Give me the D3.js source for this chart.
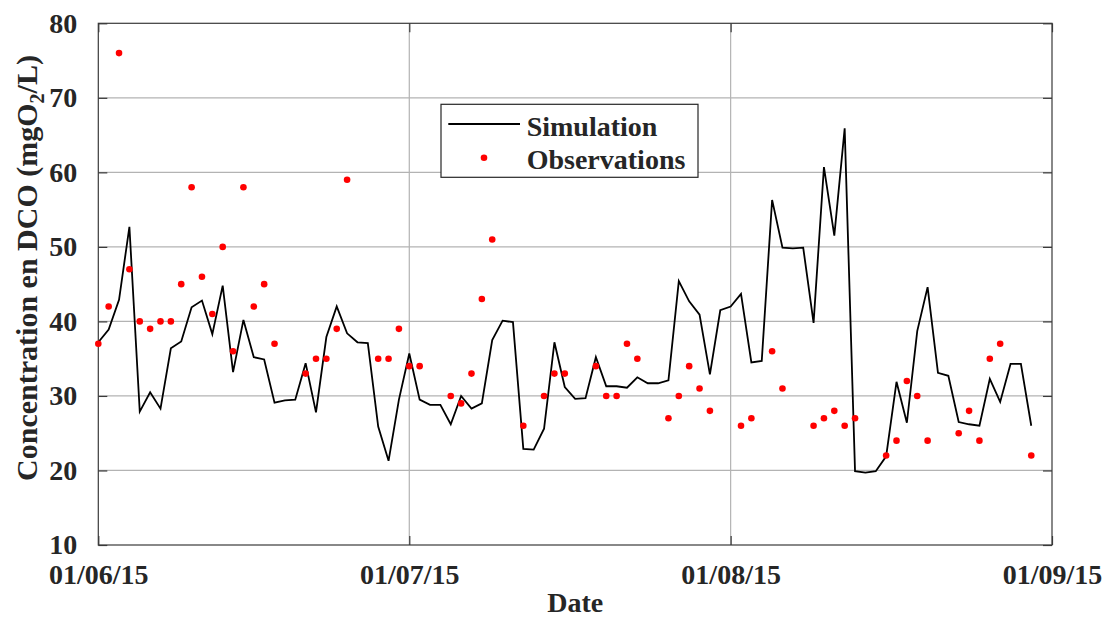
<!DOCTYPE html>
<html>
<head>
<meta charset="utf-8">
<script src="https://cdn.jsdelivr.net/npm/d3@7"></script>
<style>
  html, body { margin: 0; padding: 0; background: #fff; }
  svg { display: block; }
  text { font-family: "Liberation Serif", "Times New Roman", serif; font-weight: bold; fill: #262626; }
</style>
</head>
<body>
<svg id="chart" width="1105" height="619"></svg>
<script>
// ---------- data ----------
const simStart = "2015-06-01";
const simEnd = "2015-08-31"; // exclusive: daily values from 01/06 to 30/08
const simValues = [
  37.2, 38.9, 42.9, 52.7, 27.9, 30.5, 28.3, 36.4, 37.3, 41.9,
  42.8, 38.3, 44.8, 33.2, 40.2, 35.2, 34.9, 29.1, 29.4, 29.5,
  34.4, 27.8, 37.9, 42.0, 38.4, 37.2, 37.1, 25.9, 21.3, 29.5,
  35.7, 29.5, 28.8, 28.8, 26.2, 30.0, 28.3, 29.0, 37.5, 40.1,
  39.9, 22.9, 22.8, 25.6, 37.2, 31.2, 29.6, 29.7, 35.2, 31.3,
  31.3, 31.1, 32.5, 31.7, 31.7, 32.1, 45.4, 42.7, 40.9, 32.9,
  41.5, 42.0, 43.7, 34.5, 34.7, 56.3, 49.9, 49.8, 49.9, 39.8,
  60.7, 51.5, 65.9, 19.9, 19.7, 19.9, 21.9, 31.9, 26.4, 38.7,
  44.6, 33.1, 32.7, 26.5, 26.2, 26.0, 32.3, 29.2, 34.3, 34.3, 26.0
];
const obsDates = [
  "2015-06-01","2015-06-02","2015-06-03","2015-06-04","2015-06-05","2015-06-06","2015-06-07","2015-06-08",
  "2015-06-09","2015-06-10","2015-06-11","2015-06-12","2015-06-13","2015-06-14","2015-06-15","2015-06-16",
  "2015-06-17","2015-06-18","2015-06-21","2015-06-22","2015-06-23","2015-06-24","2015-06-25","2015-06-28",
  "2015-06-29","2015-06-30","2015-07-01","2015-07-02","2015-07-05","2015-07-06","2015-07-07","2015-07-08",
  "2015-07-09","2015-07-12","2015-07-14","2015-07-15","2015-07-16","2015-07-19","2015-07-20","2015-07-21",
  "2015-07-22","2015-07-23","2015-07-26","2015-07-27","2015-07-28","2015-07-29","2015-07-30","2015-08-02",
  "2015-08-03","2015-08-05","2015-08-06","2015-08-09","2015-08-10","2015-08-11","2015-08-12","2015-08-13",
  "2015-08-16","2015-08-17","2015-08-18","2015-08-19","2015-08-20","2015-08-23","2015-08-24","2015-08-25",
  "2015-08-26","2015-08-27","2015-08-30"
];
const obsValues = [
  37, 42, 76, 47, 40, 39, 40, 40,
  45, 58, 46, 41, 50, 36, 58, 42,
  45, 37, 33, 35, 35, 39, 59, 35,
  35, 39, 34, 34, 30, 29, 33, 43,
  51, 26, 30, 33, 33, 34, 30, 30,
  37, 35, 27, 30, 34, 31, 28, 26,
  27, 36, 31, 26, 27, 28, 26, 27,
  22, 24, 32, 30, 24, 25, 28, 24,
  35, 37, 22
];
const xDomain = ["2015-06-01", "2015-09-01"];
const xTickLabels = ["2015-06-01", "2015-07-01", "2015-08-01", "2015-09-01"];
const yDomain = [10, 80];
const yTickValues = [10, 20, 30, 40, 50, 60, 70, 80];
const seriesNames = ["Simulation", "Observations"];

// ---------- layout ----------
const parse = d3.utcParse("%Y-%m-%d");
const fmt = d3.utcFormat("%d/%m/%y");
const svg = d3.select("#chart");
const L = 98.3, R = 1052, T = 23.3, B = 545;

const x = d3.scaleUtc().domain(xDomain.map(parse)).range([L, R]);
const y = d3.scaleLinear().domain(yDomain).range([B, T]);

const simDates = d3.utcDays(parse(simStart), parse(simEnd));
const sim = simValues.map((v, i) => ({ date: simDates[i], value: v }));
const obs = obsValues.map((v, i) => ({ date: parse(obsDates[i]), value: v }));

const gridColor = "#b3b3b3";
const axisColor = "#3a3a3a";

// grid
const grid = svg.append("g");
grid.selectAll("line.gy").data(yTickValues.slice(1, -1)).enter().append("line")
  .attr("x1", L).attr("x2", R).attr("y1", d => y(d)).attr("y2", d => y(d))
  .attr("stroke", gridColor).attr("stroke-width", 1.2);
grid.selectAll("line.gx").data(xTickLabels.slice(1, -1).map(parse)).enter().append("line")
  .attr("y1", T).attr("y2", B).attr("x1", d => x(d)).attr("x2", d => x(d))
  .attr("stroke", gridColor).attr("stroke-width", 1.2);

// axes (inward ticks)
const tickLen = 9;
const yAxisL = d3.axisLeft(y).tickValues(yTickValues).tickSize(-tickLen).tickPadding(tickLen + 12);
const yAxisR = d3.axisRight(y).tickValues(yTickValues).tickSize(-tickLen).tickFormat("");
const xAxisB = d3.axisBottom(x).tickValues(xTickLabels.map(parse)).tickSize(-tickLen).tickPadding(tickLen + 12).tickFormat(fmt);
const xAxisT = d3.axisTop(x).tickValues(xTickLabels.map(parse)).tickSize(-tickLen).tickFormat("");

function styleAxis(g) {
  g.select(".domain").remove();
  g.selectAll(".tick line").attr("stroke", axisColor).attr("stroke-width", 1.2);
  g.selectAll(".tick text").attr("fill", "#262626")
    .style("font-family", "'Liberation Serif', 'Times New Roman', serif")
    .style("font-weight", "bold").style("font-size", "28px");
}
svg.append("g").attr("transform", `translate(${L},0)`).call(yAxisL).call(styleAxis);
svg.append("g").attr("transform", `translate(${R},0)`).call(yAxisR).call(styleAxis);
svg.append("g").attr("transform", `translate(0,${B})`).call(xAxisB).call(styleAxis)
  .selectAll(".tick text").attr("dy", null).attr("y", 38.5);
svg.append("g").attr("transform", `translate(0,${T})`).call(xAxisT).call(styleAxis);

// box
svg.append("rect").attr("x", L).attr("y", T).attr("width", R - L).attr("height", B - T)
  .attr("fill", "none").attr("stroke", axisColor).attr("stroke-width", 1.2);

// simulation line
const line = d3.line().x(d => x(d.date)).y(d => y(d.value));
svg.append("path").datum(sim).attr("d", line)
  .attr("fill", "none").attr("stroke", "#000").attr("stroke-width", 1.8)
  .attr("stroke-linejoin", "miter");

// observations
svg.append("g").selectAll("circle").data(obs).enter().append("circle")
  .attr("cx", d => x(d.date)).attr("cy", d => y(d.value)).attr("r", 3.3)
  .attr("fill", "#ff0000");

// legend
const lg = svg.append("g");
lg.append("rect").attr("x", 441).attr("y", 104.3).attr("width", 257).attr("height", 73)
  .attr("fill", "#fff").attr("stroke", "#262626").attr("stroke-width", 1.2);
lg.append("line").attr("x1", 448.3).attr("x2", 520).attr("y1", 124).attr("y2", 124)
  .attr("stroke", "#000").attr("stroke-width", 1.8);
lg.append("circle").attr("cx", 484).attr("cy", 157.7).attr("r", 3.3).attr("fill", "#ff0000");
lg.append("text").attr("x", 526.7).attr("y", 135.5).style("font-size", "28px").attr("fill", "#000").text(seriesNames[0]);
lg.append("text").attr("x", 526.7).attr("y", 169).style("font-size", "28px").attr("fill", "#000").text(seriesNames[1]);

// axis titles
svg.append("text").attr("x", (L + R) / 2).attr("y", 612).attr("text-anchor", "middle")
  .style("font-size", "28px").text("Date");
const yt = svg.append("text").attr("transform", `translate(37, ${268}) rotate(-90)`)
  .attr("text-anchor", "middle").style("font-size", "30px");
yt.append("tspan").text("Concentration en DCO (mgO");
yt.append("tspan").attr("dy", 7).style("font-size", "20px").text("2");
yt.append("tspan").attr("dy", -7).text("/L)");
</script>
</body>
</html>
